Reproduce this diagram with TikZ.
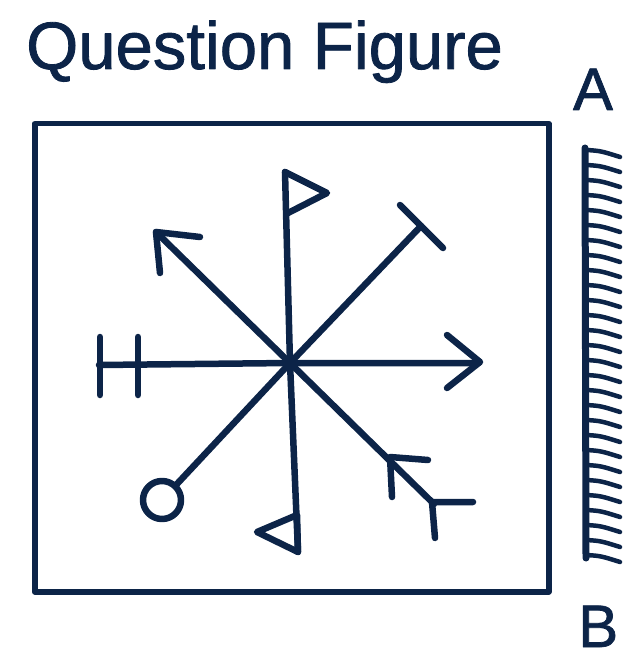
\documentclass[tikz,border=0pt]{standalone}
\usepackage{fontspec}
\setmainfont{Liberation Sans}
\newfontfamily\heavyfont{Liberation Sans}[FakeBold=1.2]
\definecolor{ink}{RGB}{12,36,72}
\begin{document}
\begin{tikzpicture}[x=1pt,y=-1pt, line cap=round, line join=round,
  stroke/.style={draw=ink, line width=6.5pt},
  lbl/.style={text=ink, inner sep=0pt, font=\heavyfont\fontsize{60}{60}\selectfont}]
\useasboundingbox (0,0) rectangle (623,663);
% title
\node[lbl, anchor=base west, font=\heavyfont\fontsize{67}{70}\selectfont] (title) at (26,69) {Question Figure};
% frame
\node[draw=ink, line width=5.5pt, minimum width=514pt, minimum height=468pt,
      anchor=north west, inner sep=0pt] (box) at (32,121) {};
% star centre
\coordinate (c) at (290,363);
% horizontal arm: left double bar, right arrow
\coordinate (hl) at (99,365);
\coordinate (hr) at (478,363);
\draw[stroke] (hl) -- (c) -- (hr);
\draw[stroke] (100,337) -- (100,395);
\draw[stroke] (138,337) -- (138,395);
\draw[stroke] (447,335) -- (480,362) -- (447,388);
% up arm with flag to the right
\coordinate (up) at (285,172);
\draw[stroke] (c) -- (up);
\draw[stroke] (up) -- (327,193) -- (288,213);
% down arm with flag to the left
\coordinate (dn) at (298,552);
\draw[stroke] (c) -- (dn);
\draw[stroke] (297,515) -- (257,532) -- (dn) -- cycle;
% up-left arrow
\coordinate (ul) at (156,232);
\draw[stroke] (c) -- (ul);
\draw[stroke] (200,237) -- (ul) -- (160,273);
% up-right T
\coordinate (ur) at (421,226);
\draw[stroke] (c) -- (ur);
\draw[stroke] (400,205) -- (443,248);
% down-left circle
\node[circle, draw=ink, line width=6.5pt, minimum size=38pt, inner sep=0pt] (o) at (162,500) {};
\draw[stroke] (c) -- (o);
% down-right feathered arm
\coordinate (dr) at (434,504);
\draw[stroke] (c) -- (dr);
\draw[stroke] (428,460) -- (390,457) -- (392,497);
\draw[stroke] (473,502) -- (432,502) -- (435,538);
\fill[ink] (c) circle (6pt);
% mirror
\coordinate (mt) at (585,148);
\coordinate (mb) at (586,558);
\draw[draw=ink, line width=7pt] (mt) -- (mb);
\foreach \i in {0,...,27}
  \draw[draw=ink, line width=4.5pt] (587,{150+15*\i}) .. controls (601,{151+15*\i}) .. (620,{157+15*\i});
% labels
\node[lbl, anchor=base] (A) at (593,110) {A};
\node[lbl, anchor=base west] (B) at (578,647) {B};
\end{tikzpicture}
\end{document}
